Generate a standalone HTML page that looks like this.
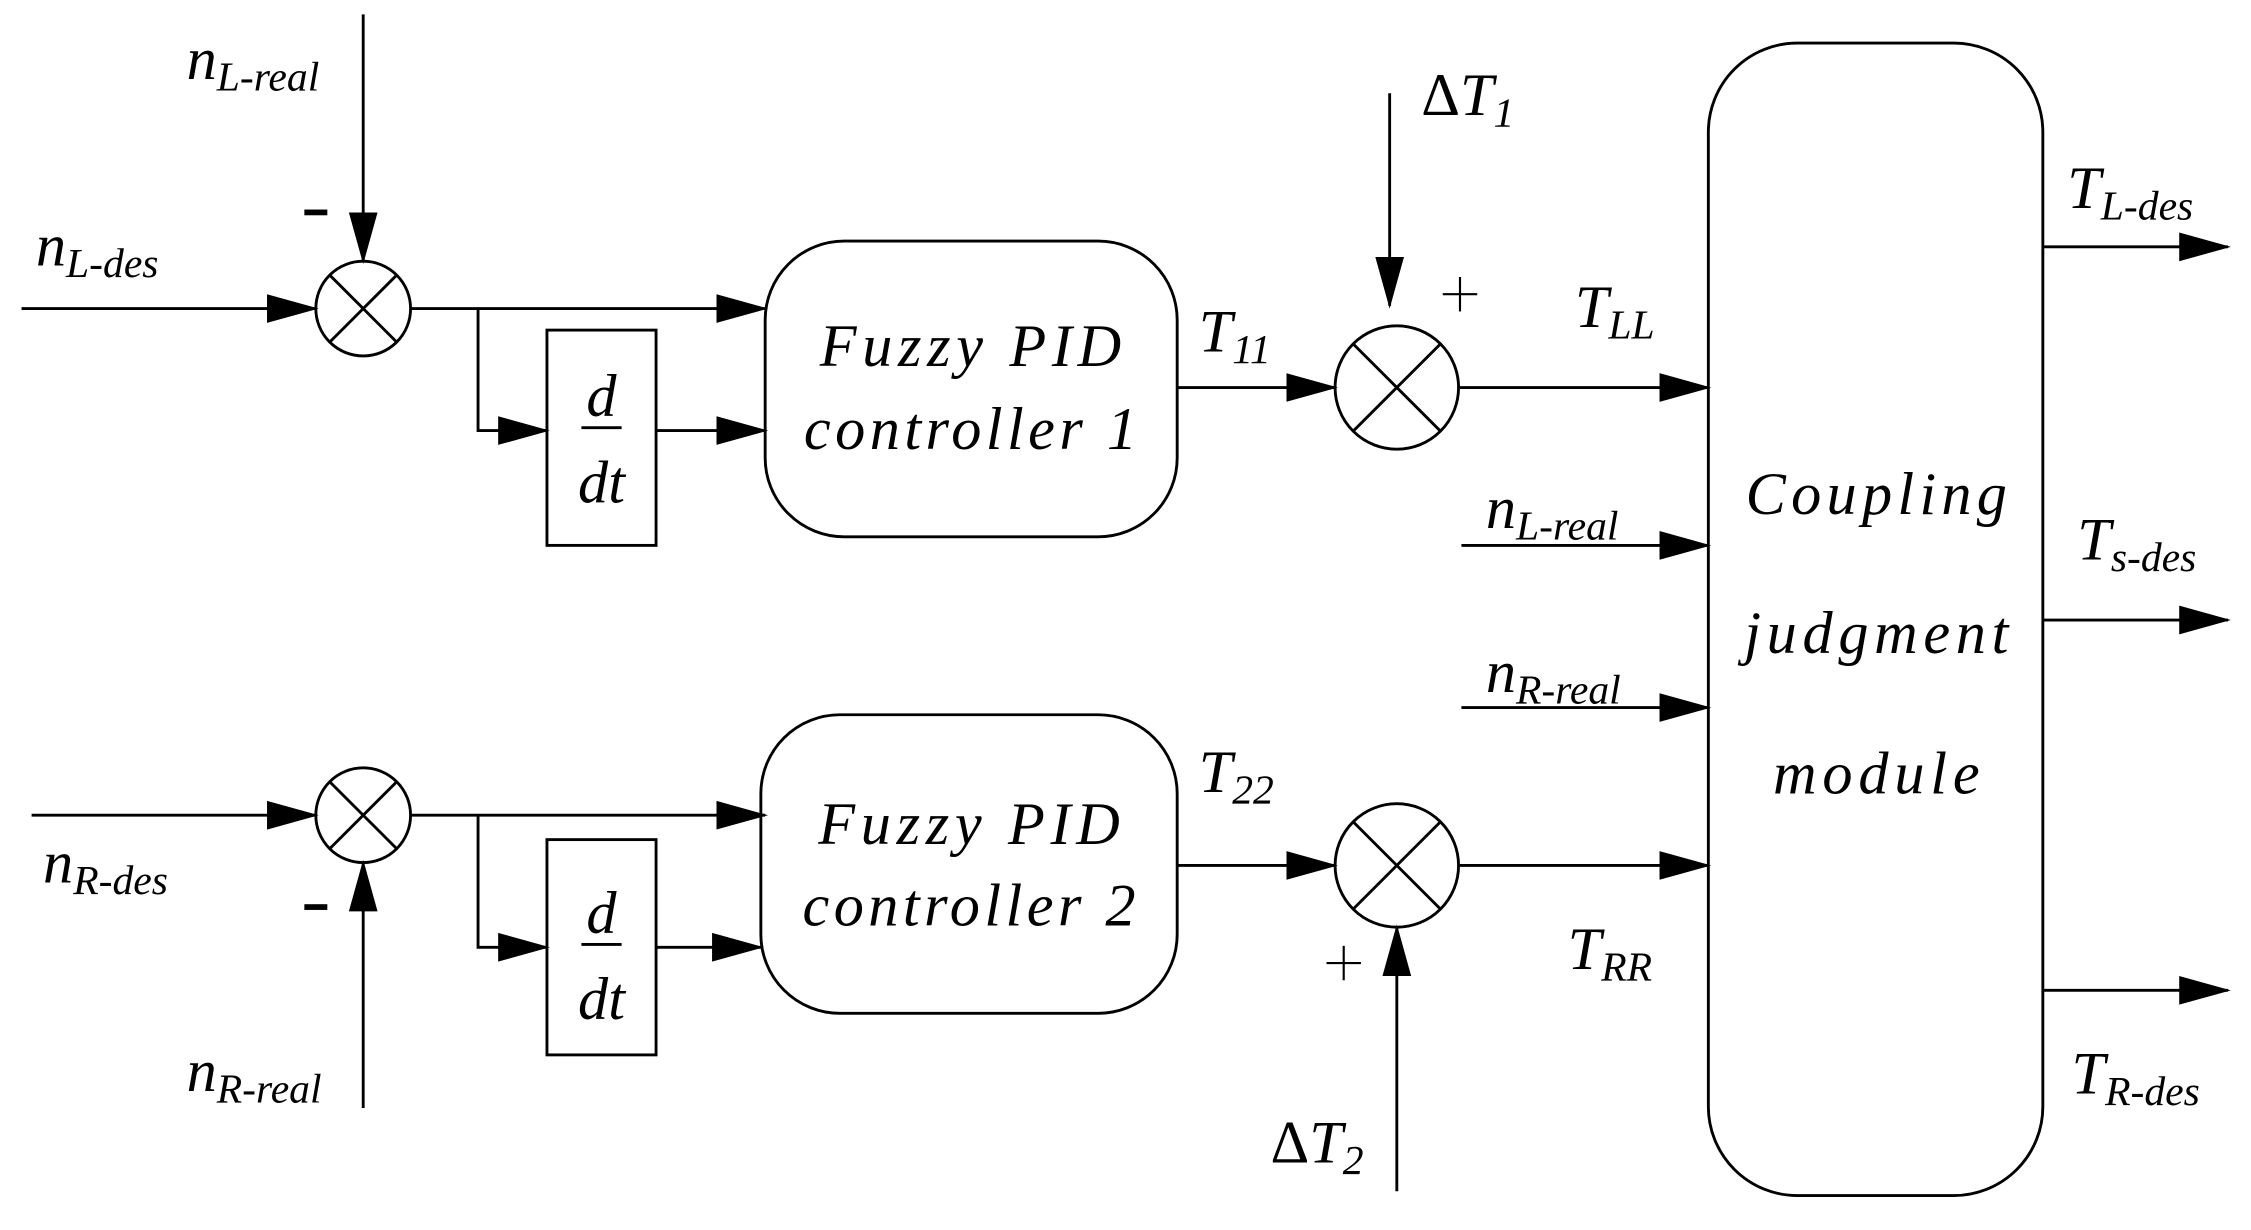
<!DOCTYPE html>
<html><head><meta charset="utf-8"><style>
html,body{margin:0;padding:0;background:#fff;}
svg{display:block;}
text{font-family:"Liberation Serif","Times New Roman","DejaVu Serif",serif;font-style:italic;fill:#000;}
.b{font-size:42px;}
.s{font-size:29px;}
</style></head><body>
<svg width="2251" height="1230" viewBox="0 0 1568 857" preserveAspectRatio="none" xmlns="http://www.w3.org/2000/svg">
<defs><marker id="a" markerWidth="36" markerHeight="24" refX="34" refY="12" orient="auto" markerUnits="userSpaceOnUse"><path d="M0,2 L36,12 L0,22 Z" fill="#000"/></marker></defs>
<g stroke="#000" stroke-width="2" fill="none">
<line x1="15" y1="215" x2="220" y2="215" marker-end="url(#a)"/>
<line x1="253" y1="10" x2="253" y2="182" marker-end="url(#a)"/>
<circle cx="253" cy="215" r="33"/>
<line x1="230" y1="192" x2="276" y2="238"/><line x1="276" y1="192" x2="230" y2="238"/>
<line x1="286" y1="215" x2="533" y2="215" marker-end="url(#a)"/>
<polyline points="333,215 333,300 381,300" marker-end="url(#a)"/>
<rect x="381" y="230" width="76" height="150"/>
<line x1="457" y1="300" x2="533" y2="300" marker-end="url(#a)"/>
<rect x="533" y="168" width="287" height="206" rx="55"/>
<line x1="820" y1="270" x2="930" y2="270" marker-end="url(#a)"/>
<circle cx="973" cy="270" r="43"/>
<line x1="943" y1="240" x2="1003" y2="300"/><line x1="1003" y1="240" x2="943" y2="300"/>
<line x1="968" y1="65" x2="968" y2="213" marker-end="url(#a)"/>
<line x1="1016" y1="270" x2="1190" y2="270" marker-end="url(#a)"/>
<line x1="1018" y1="380" x2="1190" y2="380" marker-end="url(#a)"/>
<line x1="1018" y1="493" x2="1190" y2="493" marker-end="url(#a)"/>
<line x1="22" y1="568" x2="220" y2="568" marker-end="url(#a)"/>
<line x1="253" y1="772" x2="253" y2="601" marker-end="url(#a)"/>
<circle cx="253" cy="568" r="33"/>
<line x1="230" y1="545" x2="276" y2="591"/><line x1="276" y1="545" x2="230" y2="591"/>
<line x1="286" y1="568" x2="533" y2="568" marker-end="url(#a)"/>
<polyline points="333,568 333,660 381,660" marker-end="url(#a)"/>
<rect x="381" y="585" width="76" height="150"/>
<line x1="457" y1="660" x2="530" y2="660" marker-end="url(#a)"/>
<rect x="530" y="498" width="290" height="208" rx="55"/>
<line x1="820" y1="603" x2="930" y2="603" marker-end="url(#a)"/>
<circle cx="973" cy="603" r="43"/>
<line x1="943" y1="573" x2="1003" y2="633"/><line x1="1003" y1="573" x2="943" y2="633"/>
<line x1="973" y1="830" x2="973" y2="646" marker-end="url(#a)"/>
<line x1="1016" y1="603" x2="1190" y2="603" marker-end="url(#a)"/>
<rect x="1190" y="30" width="233" height="803" rx="62"/>
<line x1="1423" y1="172" x2="1552" y2="172" marker-end="url(#a)"/>
<line x1="1423" y1="432" x2="1552" y2="432" marker-end="url(#a)"/>
<line x1="1423" y1="690" x2="1552" y2="690" marker-end="url(#a)"/>
<line x1="405" y1="298" x2="433" y2="298"/>
<line x1="405" y1="658" x2="433" y2="658"/>
</g>
<rect x="212" y="146" width="16" height="4" fill="#000"/>
<rect x="212" y="630" width="16" height="4" fill="#000"/>
<g stroke="#000" stroke-width="1.5">
<line x1="1005" y1="205" x2="1029" y2="205"/><line x1="1017" y1="193" x2="1017" y2="217"/>
<line x1="924" y1="671" x2="948" y2="671"/><line x1="936" y1="659" x2="936" y2="683"/>
</g>
<text x="130" y="55" class="b">n<tspan class="s" dy="8">L-real</tspan></text>
<text x="25" y="185" class="b">n<tspan class="s" dy="8">L-des</tspan></text>
<text x="30" y="615" class="b">n<tspan class="s" dy="8">R-des</tspan></text>
<text x="130" y="760" class="b">n<tspan class="s" dy="8">R-real</tspan></text>
<text x="419" y="290" class="b" text-anchor="middle">d</text>
<text x="419" y="350" class="b" text-anchor="middle">dt</text>
<text x="419" y="650" class="b" text-anchor="middle">d</text>
<text x="419" y="710" class="b" text-anchor="middle">dt</text>
<text x="676" y="255" class="b" text-anchor="middle" textLength="210">Fuzzy PID</text>
<text x="676" y="313" class="b" text-anchor="middle" textLength="232">controller 1</text>
<text x="675" y="588" class="b" text-anchor="middle" textLength="210">Fuzzy PID</text>
<text x="675" y="645" class="b" text-anchor="middle" textLength="232">controller 2</text>
<text x="835" y="245" class="b">T<tspan class="s" dy="8">11</tspan></text>
<text x="835" y="552" class="b">T<tspan class="s" dy="8">22</tspan></text>
<text x="990" y="80" class="b"><tspan style="font-style:normal">Δ</tspan>T<tspan class="s" dy="8">1</tspan></text>
<text x="885" y="810" class="b"><tspan style="font-style:normal">Δ</tspan>T<tspan class="s" dy="8">2</tspan></text>
<text x="1097" y="228" class="b">T<tspan class="s" dy="8">LL</tspan></text>
<text x="1092" y="675" class="b">T<tspan class="s" dy="8">RR</tspan></text>
<text x="1035" y="368" class="b">n<tspan class="s" dy="8">L-real</tspan></text>
<text x="1035" y="482" class="b">n<tspan class="s" dy="8">R-real</tspan></text>
<text x="1307" y="358" class="b" text-anchor="middle" textLength="182">Coupling</text>
<text x="1307" y="455" class="b" text-anchor="middle" textLength="184">judgment</text>
<text x="1307" y="553" class="b" text-anchor="middle" textLength="144">module</text>
<text x="1440" y="145" class="b">T<tspan class="s" dy="8">L-des</tspan></text>
<text x="1447" y="390" class="b">T<tspan class="s" dy="8">s-des</tspan></text>
<text x="1443" y="762" class="b">T<tspan class="s" dy="8">R-des</tspan></text>
</svg>
</body></html>
